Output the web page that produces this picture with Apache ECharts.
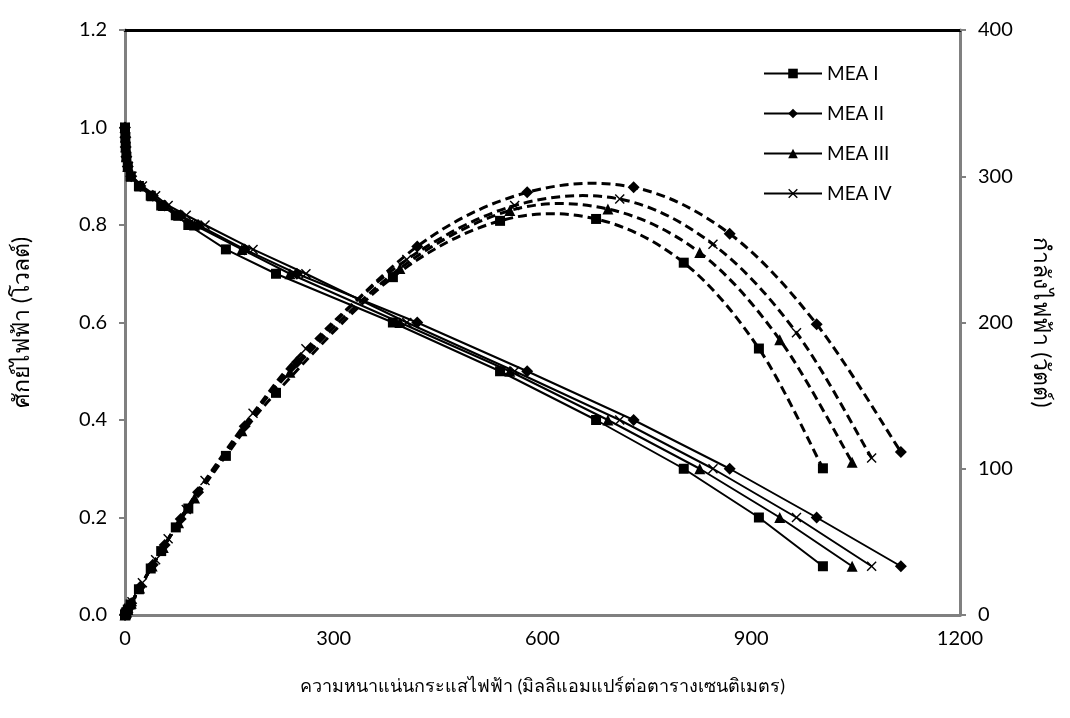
<!DOCTYPE html>
<html>
<head>
<meta charset="utf-8">
<script src="https://cdn.jsdelivr.net/npm/echarts@6/dist/echarts.min.js"></script>
<style>
  html, body { margin: 0; padding: 0; background: #fff; }
  #main { width: 1070px; height: 718px; }
</style>
</head>
<body>
<div id="main"></div>
<script>
// voltage steps shared by all cells (V)
const voltage = [1.0, 0.98, 0.96, 0.94, 0.92, 0.90, 0.88, 0.86, 0.84, 0.82, 0.80, 0.75, 0.70, 0.60, 0.50, 0.40, 0.30, 0.20, 0.10];

// current density (mA/cm2)
const currentI   = [0, 0.5, 1, 2, 4, 8, 20, 37, 52, 73, 91, 145, 217, 385, 539, 677, 803, 911, 1003];
const currentII  = [0, 0.5, 1, 2, 4, 9, 22, 40, 57, 80, 105, 172, 247, 420, 578, 731, 869, 994, 1115];
const currentIII = [0, 0.5, 1, 2, 4, 9, 21, 39, 55, 77, 100, 168, 237, 395, 553, 694, 826, 941, 1045];
const currentIV  = [0, 0.5, 1, 2, 5, 10, 25, 44, 62, 88, 115, 184, 260, 405, 560, 711, 845, 965, 1073];

// power
const powerI   = [0, 0.49, 0.96, 1.88, 3.68, 7.2, 17.6, 31.8, 43.7, 59.9, 72.8, 108.8, 151.9, 231, 269.5, 270.8, 240.9, 182.2, 100.3];
const powerII  = [0, 0.49, 0.96, 1.88, 3.68, 8.1, 19.4, 34.4, 47.9, 65.6, 84, 129, 172.9, 252, 289, 292.4, 260.7, 198.8, 111.5];
const powerIII = [0, 0.49, 0.96, 1.88, 3.68, 8.1, 18.5, 33.5, 46.2, 63.1, 80, 126, 165.9, 237, 276.5, 277.6, 247.8, 188.2, 104.5];
const powerIV  = [0, 0.49, 0.96, 1.88, 4.6, 9, 22, 37.8, 52.1, 72.2, 92, 138, 182, 243, 280, 284.4, 253.5, 193, 107.3];

const names = ['MEA I', 'MEA II', 'MEA III', 'MEA IV'];
const xTicks = [0, 300, 600, 900, 1200];

const crossPath = 'path://M0,1L1,0L5,4L9,0L10,1L6,5L10,9L9,10L5,6L1,10L0,9L4,5Z';
const symbols = ['rect', 'diamond', 'triangle', crossPath];
const symbolSizes = [10, 12, 11, 10];

const currents = [currentI, currentII, currentIII, currentIV];
const powers = [powerI, powerII, powerIII, powerIV];

function pairs(xs, ys) {
    return xs.map(function (x, i) { return [x, ys[i]]; });
}

// excel-like smoothed line (catmull-rom through the points)
function smoothPath(api, pts) {
    const p = pts.map(function (d) { return api.coord(d); });
    let s = 'M' + p[0][0] + ',' + p[0][1];
    for (let i = 0; i < p.length - 1; i++) {
        const p0 = p[i - 1] || p[i];
        const p1 = p[i];
        const p2 = p[i + 1];
        const p3 = p[i + 2] || p2;
        const c1x = p1[0] + (p2[0] - p0[0]) / 6;
        const c1y = p1[1] + (p2[1] - p0[1]) / 6;
        const c2x = p2[0] - (p3[0] - p1[0]) / 6;
        const c2y = p2[1] - (p3[1] - p1[1]) / 6;
        s += 'C' + c1x + ',' + c1y + ',' + c2x + ',' + c2y + ',' + p2[0] + ',' + p2[1];
    }
    return s;
}

const font = "Lato, 'Noto Sans', sans-serif";
const series = [];
names.forEach(function (name, k) {
    series.push({
        name: name,
        type: 'line',
        xAxisIndex: 0,
        yAxisIndex: 0,
        data: pairs(currents[k], voltage),
        symbol: symbols[k],
        symbolSize: symbolSizes[k],
        showAllSymbol: true,
        lineStyle: {color: '#000', width: 2},
        itemStyle: {color: '#000', borderWidth: 0},
        z: 3
    });
});
names.forEach(function (name, k) {
    const pts = pairs(currents[k], powers[k]);
    series.push({
        name: name,
        type: 'custom',
        coordinateSystem: 'cartesian2d',
        xAxisIndex: 0,
        yAxisIndex: 1,
        data: pts,
        z: 2,
        renderItem: function (params, api) {
            if (params.dataIndex !== 0) return null;
            return {
                type: 'path',
                shape: {pathData: smoothPath(api, pts)},
                style: {stroke: '#000', lineWidth: 3, lineDash: [9, 5], fill: null}
            };
        }
    });
    series.push({
        name: name,
        type: 'line',
        xAxisIndex: 0,
        yAxisIndex: 1,
        data: pts,
        symbol: symbols[k],
        symbolSize: symbolSizes[k],
        showAllSymbol: true,
        lineStyle: {width: 0, opacity: 0},
        itemStyle: {color: '#000', borderWidth: 0},
        z: 3
    });
});

const myChart = echarts.init(document.getElementById('main'));
const option = {
    backgroundColor: '#ffffff',
    animation: false,
    textStyle: {fontFamily: font},
    grid: {left: 125, right: 110, top: 30, bottom: 103},
    legend: {
        data: names,
        orient: 'vertical',
        left: 758,
        top: 59,
        itemWidth: 58,
        itemHeight: 12,
        itemGap: 21,
        textStyle: {color: '#000', fontSize: 19, fontFamily: font}
    },
    xAxis: [
        {
            type: 'value',
            min: xTicks[0],
            max: xTicks[xTicks.length - 1],
            interval: 300,
            name: 'ความหนาแน่นกระแสไฟฟ้า (มิลลิแอมแปร์ต่อตารางเซนติเมตร)',
            nameLocation: 'middle',
            nameGap: 62,
            nameTextStyle: {color: '#000', fontSize: 18, fontFamily: font},
            axisLine: {lineStyle: {color: '#808080', width: 3}},
            axisTick: {show: false},
            axisLabel: {color: '#000', fontSize: 20, margin: 14, formatter: function (v) { return String(v); }},
            splitLine: {show: false}
        },
        {
            type: 'value',
            position: 'top',
            min: 0,
            max: 1200,
            axisLine: {onZero: false, lineStyle: {color: '#000', width: 3}},
            axisTick: {show: false},
            axisLabel: {show: false},
            splitLine: {show: false}
        }
    ],
    yAxis: [
        {
            type: 'value',
            min: 0,
            max: 1.2,
            interval: 0.2,
            name: 'ศักย์ไฟฟ้า (โวลต์)',
            nameLocation: 'middle',
            nameGap: 92,
            nameTextStyle: {color: '#000', fontSize: 23, fontFamily: font},
            axisLine: {show: true, onZero: false, lineStyle: {color: '#808080', width: 3}},
            axisTick: {show: true, length: 6, lineStyle: {color: '#808080', width: 2}},
            axisLabel: {color: '#000', fontSize: 20, margin: 18, formatter: function (v) { return v.toFixed(1); }},
            splitLine: {show: false}
        },
        {
            type: 'value',
            min: 0,
            max: 400,
            interval: 100,
            position: 'right',
            name: 'กำลังไฟฟ้า (วัตต์)',
            nameLocation: 'middle',
            nameRotate: -90,
            nameGap: 70,
            nameTextStyle: {color: '#000', fontSize: 23, fontFamily: font},
            axisLine: {show: true, onZero: false, lineStyle: {color: '#808080', width: 3}},
            axisTick: {show: true, inside: false, length: 6, lineStyle: {color: '#808080', width: 2}},
            axisLabel: {color: '#000', fontSize: 20, margin: 18},
            splitLine: {show: false}
        }
    ],
    series: series
};
myChart.setOption(option);
window.onresize = myChart.resize;
</script>
</body>
</html>
